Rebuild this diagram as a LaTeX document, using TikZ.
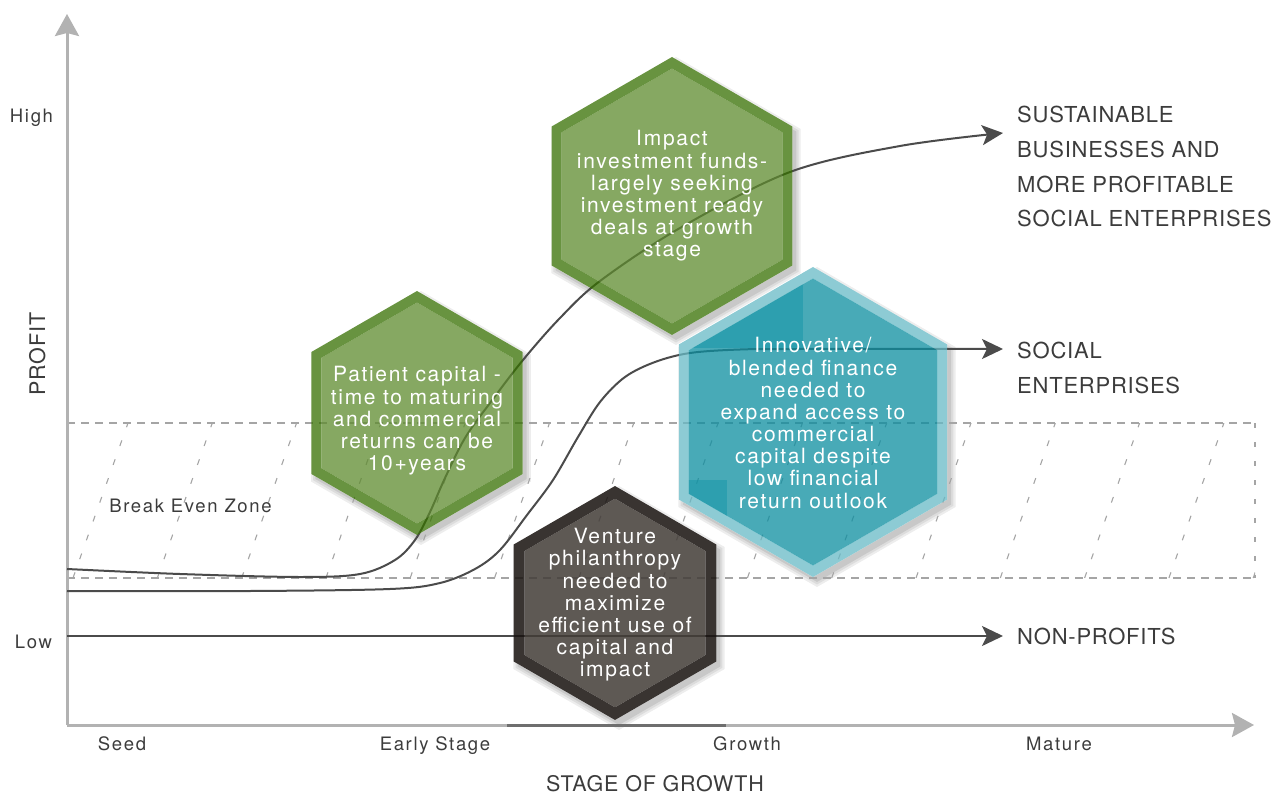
\documentclass[tikz,border=0pt]{standalone}
\usepackage{fontspec}
\setmainfont{TeX Gyre Heros}
\newfontfamily\lblfont[LetterSpace=9]{TeX Gyre Heros}
\newfontfamily\hexfont[LetterSpace=8]{TeX Gyre Heros}
\newfontfamily\capfont[LetterSpace=3.5]{TeX Gyre Heros}
\usetikzlibrary{arrows.meta}
\definecolor{txt}{RGB}{60,60,60}
\definecolor{crv}{RGB}{75,75,75}
\definecolor{axc}{RGB}{178,178,178}
\definecolor{axd}{RGB}{110,110,110}
\definecolor{zonec}{RGB}{165,165,165}
\definecolor{gB}{RGB}{54,112,0}
\definecolor{gF}{RGB}{94,139,46}
\definecolor{tB}{RGB}{103,186,198}
\definecolor{tF}{RGB}{11,142,160}
\definecolor{tD}{RGB}{20,150,168}
\definecolor{dB}{RGB}{23,17,14}
\definecolor{dF}{RGB}{66,60,55}
\pgfdeclarelayer{shadowL}
\pgfdeclarelayer{whiteL}
\pgfdeclarelayer{linesL}
\pgfdeclarelayer{textL}
\pgfsetlayers{shadowL,whiteL,linesL,main,textL}
\newcommand\hexat[2]{([shift={(90:#2)}]#1.center) -- ([shift={(30:#2)}]#1.center) -- ([shift={(-30:#2)}]#1.center) -- ([shift={(-90:#2)}]#1.center) -- ([shift={(-150:#2)}]#1.center) -- ([shift={(150:#2)}]#1.center) -- cycle}
\newcommand\hexshape[6]{% center, shadow centre, R, Rinner, border colour, fill colour
  \begin{pgfonlayer}{shadowL}
    \fill[black, opacity=0.07] \hexat{#2}{#3+5};
    \fill[black, opacity=0.07] \hexat{#2}{#3+2.5};
    \fill[black, opacity=0.09] \hexat{#2}{#3};
  \end{pgfonlayer}
  \begin{pgfonlayer}{whiteL}
    \fill[white] \hexat{#1}{#3};
  \end{pgfonlayer}
  \fill[#5, fill opacity=\hexop, even odd rule] \hexat{#1}{#3} \hexat{#1}{#4};
  \fill[#6, fill opacity=\hexop] \hexat{#1}{#4};
}
\begin{document}
\begin{tikzpicture}[x=1pt,y=-1pt,
  lbl/.style={font=\lblfont\fontsize{18.5}{22}\selectfont, text=txt, inner sep=0pt},
  caplbl/.style={font=\capfont\fontsize{22}{34.7}\selectfont, text=txt, inner sep=0pt, align=left},
  axtitle/.style={font=\capfont\fontsize{21.5}{26}\selectfont, text=txt, inner sep=0pt},
  hextext/.style={font=\hexfont\fontsize{21}{22.2}\selectfont, text=white, inner sep=0pt, align=center},
  curve/.style={crv, line width=2pt, -{Stealth[length=21pt,width=20pt,inset=5pt]}},
  axis/.style={axc, line width=3pt, -{Stealth[length=22pt,width=24pt,inset=3pt]}},
  zone/.style={zonec, line width=1.2pt},
]
\useasboundingbox (0,0) rectangle (1274,794);

% ---------- hexagon centres ----------
\coordinate (h1c) at (417,413);
\coordinate (h2c) at (672,196);
\coordinate (h3c) at (813,422);
\coordinate (h4c) at (615,603);
\coordinate (h1s) at (421,418);
\coordinate (h2s) at (676,201);
\coordinate (h3s) at (817,427);
\coordinate (h4s) at (619,608);

% ---------- hexagons ----------
\def\hexop{0.75}
\hexshape{h1c}{h1s}{122}{110.45}{gB}{gF}
\hexshape{h2c}{h2s}{139}{127.45}{gB}{gF}
\hexshape{h3c}{h3s}{155}{143.45}{tB}{tF}
\begin{scope}
  \clip \hexat{h3c}{143.45};
  \fill[tD, fill opacity=0.5] (640,250) rectangle (803,348);
  \fill[tD, fill opacity=0.5] (640,480) rectangle (727,580);
\end{scope}
\def\hexop{0.85}
\hexshape{h4c}{h4s}{117}{104.3}{dB}{dF}

% ---------- lines layer ----------
\begin{pgfonlayer}{linesL}
  % break even zone
  \coordinate (z1) at (67,423);
  \coordinate (z2) at (1255,578);
  \coordinate (z3) at (1255,423);
  \coordinate (z4) at (67,578);
  \draw[zone, dash pattern=on 8pt off 6pt] (z1) -- (z3);
  \draw[zone, dash pattern=on 8pt off 6pt] (z4) -- (z2);
  \draw[zone, dash pattern=on 5pt off 14pt] (z3) -- (z2);
  \begin{scope}
    \clip (z1) rectangle (z2);
    \foreach \k in {0,...,14}{
      \draw[zone, line width=1.1pt, dash pattern=on 6pt off 14pt] (73+84.3*\k,578) -- (128+84.3*\k,423);
    }
  \end{scope}
  % axes
  \coordinate (O) at (67,725);
  \coordinate (ytip) at (67,14);
  \coordinate (xtip) at (1254,725);
  \coordinate (ds1) at (507,725);
  \coordinate (ds2) at (726,725);
  \draw[axis] (O) -- (ytip);
  \draw[axis] (O) -- (xtip);
  \draw[axd, line width=3pt] (ds1) -- (ds2);
  % curves
  \coordinate (a0) at (67,569);
  \coordinate (a1) at (1003,133);
  \coordinate (b0) at (67,591);
  \coordinate (b1) at (1003,349);
  \coordinate (c0) at (67,636);
  \coordinate (c1) at (1003,636);
  \draw[curve] plot[smooth, tension=0.55] coordinates {(a0) (180,574) (300,577) (360,574) (395,560) (415,540) (430,512) (445,478) (465,438) (490,403) (523,360) (560,318) (600,281) (680,228) (790,172) (900,146) (a1)};
  \draw[curve] plot[smooth, tension=0.55] coordinates {(b0) (250,591) (390,589) (440,583) (475,569) (500,550) (527,515) (553,480) (578,437) (600,402) (625,377) (655,362) (690,353) (740,349.5) (800,349) (b1)};
  \draw[curve] (c0) -- (c1);
\end{pgfonlayer}

% ---------- hexagon texts ----------
\begin{pgfonlayer}{textL}
  \node[hextext] (h1) at (417,421) {Patient capital -\\time to maturing\\and commercial\\returns can be\\10+years};
  \node[hextext] (h2) at (672,196) {Impact\\investment funds-\\largely seeking\\investment ready\\deals at growth\\stage};
  \node[hextext] (h3) at (813,423) {Innovative/\\blended finance\\needed to\\expand access to\\commercial\\capital despite\\low financial\\return outlook};
  \node[hextext] (h4) at (615,605) {Venture\\philanthropy\\needed to\\maximize\\efficient use of\\capital and\\impact};
\end{pgfonlayer}

% ---------- labels ----------
\node[lbl, anchor=base] (high) at (31.5,123) {High};
\node[lbl, anchor=base] (low) at (33.5,648) {Low};
\node[axtitle, rotate=90, anchor=base] (profit) at (45,354) {PROFIT};
\node[lbl, anchor=base] (seed) at (122,750) {Seed};
\node[lbl, anchor=base] (early) at (435,750) {Early Stage};
\node[lbl, anchor=base] (growth) at (747,750) {Growth};
\node[lbl, anchor=base] (mature) at (1059,750) {Mature};
\node[axtitle, anchor=base] (stage) at (655,791.5) {STAGE OF GROWTH};
\node[lbl, anchor=base] (bez) at (190.5,512) {Break Even Zone};
\node[caplbl, anchor=north west] (sust) at (1017,106.2) {SUSTAINABLE\\BUSINESSES AND\\MORE PROFITABLE\\SOCIAL ENTERPRISES};
\node[caplbl, anchor=north west] (soc) at (1017,342.2) {SOCIAL\\ENTERPRISES};
\node[caplbl, anchor=base west] (np) at (1017,644) {NON-PROFITS};
\end{tikzpicture}
\end{document}
